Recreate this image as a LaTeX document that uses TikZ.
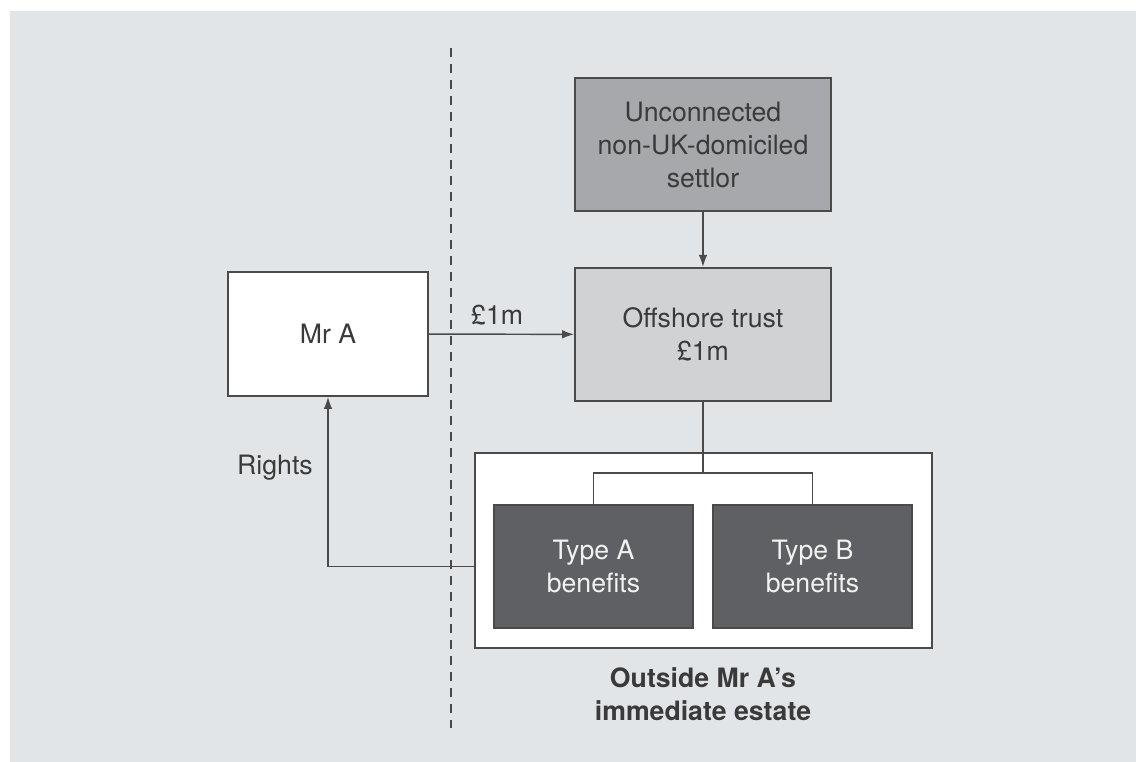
\documentclass[tikz,border=0pt]{standalone}
\usepackage{fontspec}
\setmainfont{TeX Gyre Heros}
\usetikzlibrary{positioning, arrows.meta}
\definecolor{bggray}{HTML}{E2E5E8}
\definecolor{linegray}{HTML}{4A4A4A}
\definecolor{textdark}{HTML}{3A3A3A}
\definecolor{settlorgray}{HTML}{A6A8AB}
\definecolor{trustgray}{HTML}{D0D2D4}
\definecolor{typegray}{HTML}{5F6063}
\tikzset{
  box/.style={draw=linegray, line width=1.4pt, align=center, inner sep=0pt,
    text=textdark, minimum width=192pt, minimum height=100pt},
  typebox/.style={box, fill=typegray, text=white!95!black,
    minimum width=149pt, minimum height=92pt},
  link/.style={draw=linegray, line width=1.1pt}
}

\begin{document}
\begin{tikzpicture}[>={Latex[length=9pt, width=6.5pt]}, x=0.75pt, y=-0.75pt,
  font=\fontsize{20}{24.75}\selectfont]
\useasboundingbox (0,0) rectangle (1136,762);
\fill[bggray] (10,11) rectangle (1136,762);
% dividing line
\coordinate (divtop) at (451,48);
\coordinate (divbot) at (451,728);
\draw[linegray, line width=1pt, dash pattern=on 7pt off 5pt] (divtop) -- (divbot);
% boxes
\node[box, fill=white, minimum width=150pt, minimum height=93pt] (mra) at (328,334) {Mr A};
\node[box, fill=settlorgray] (settlor) at (703,144.5) {Unconnected\\non-UK-domiciled\\settlor};
\node[box, fill=trustgray] (trust) at (703,334.5) {Offshore trust\\\pounds1m};
\node[box, fill=white, minimum width=343pt, minimum height=146pt] (outside) at (703.5,550.5) {};
\node[typebox] (typea) at (593.5,566.5) {Type A\\benefits};
\node[typebox] (typeb) at (812.5,566.5) {Type B\\benefits};
\node[text=textdark] (rights) at (275,468) {Rights};
\node[text=textdark, align=center, font=\fontsize{20}{24.75}\selectfont\bfseries] (caption) at (703,694) {Outside Mr A’s\\immediate estate};
% connectors
\coordinate (fork) at (703,473);
\draw[link,->] (settlor) -- (trust);
\draw[link,->] (mra) -- node[above=3pt, pos=0.47, text=textdark] {\pounds1m} (trust);
\draw[link] (trust) -- (fork);
\draw[link] (typea) |- (fork) -| (typeb);
\draw[link,->] (outside.west |- typea.west) -| (mra.south);
\end{tikzpicture}
\end{document}
